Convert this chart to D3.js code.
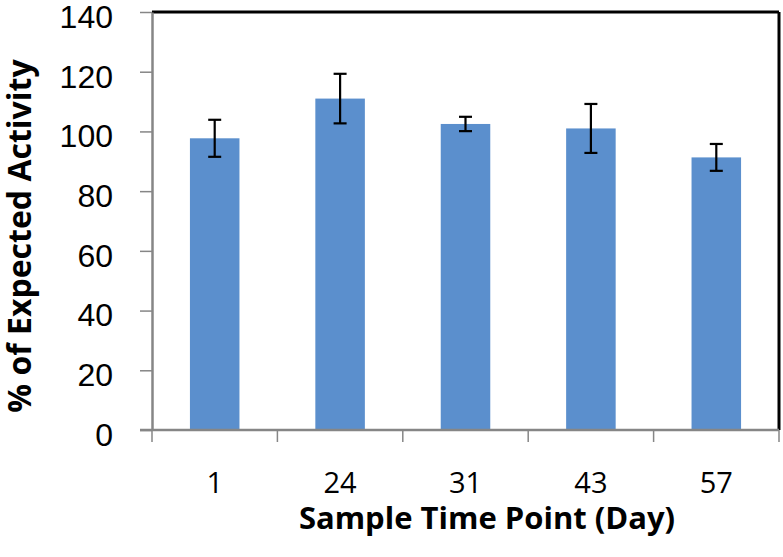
<!DOCTYPE html>
<html>
<head>
<meta charset="utf-8">
<script src="https://cdn.jsdelivr.net/npm/d3@7"></script>
<style>
	body { margin: 0; background: #fff; }
	svg { display: block; }
</style>
</head>
<body>
<div id="chart"></div>
<script>
// chart values
var days = ["1", "24", "31", "43", "57"];
var activity = [97.7, 111, 102.5, 101, 91.3];
var errors = [6.2, 8.3, 2.4, 8.2, 4.5];
var yTicks = [0, 20, 40, 60, 80, 100, 120, 140];

var width = 783, height = 557;
var margin = { top: 12, right: 4, bottom: 127, left: 152 };
var plotW = width - margin.left - margin.right;
var plotH = height - margin.top - margin.bottom;

var svg = d3.select("#chart").append("svg")
	.attr("width", width)
	.attr("height", height);

var g = svg.append("g")
	.attr("transform", "translate(" + margin.left + "," + margin.top + ")");

var x = d3.scaleBand()
	.domain(days)
	.range([0, plotW])
	.paddingInner(0.605)
	.paddingOuter(0.3025);

var y = d3.scaleLinear()
	.domain([0, 140])
	.range([plotH, 0]);

// top and right frame lines
g.append("line")
	.attr("x1", 0).attr("x2", plotW)
	.attr("y1", 0).attr("y2", 0)
	.attr("stroke", "#000").attr("stroke-width", 3);
g.append("line")
	.attr("x1", plotW).attr("x2", plotW)
	.attr("y1", 0).attr("y2", plotH)
	.attr("stroke", "#000").attr("stroke-width", 3);

// bars
g.selectAll(".bar")
	.data(days)
	.enter()
	.append("rect")
		.attr("class", "bar")
		.attr("x", d => x(d))
		.attr("width", x.bandwidth())
		.attr("y", (d, i) => y(activity[i]))
		.attr("height", (d, i) => plotH - y(activity[i]))
		.attr("fill", "#5b8fcd");

// error bars
var capW = 6.5;
var cx = d => x(d) + x.bandwidth() / 2;
var err = g.selectAll(".err")
	.data(days)
	.enter()
	.append("g")
		.attr("class", "err")
		.attr("stroke", "#000")
		.attr("stroke-width", 2.2);

err.append("line")
	.attr("x1", cx).attr("x2", cx)
	.attr("y1", (d, i) => y(activity[i] - errors[i]))
	.attr("y2", (d, i) => y(activity[i] + errors[i]));
err.append("line")
	.attr("x1", d => cx(d) - capW)
	.attr("x2", d => cx(d) + capW)
	.attr("y1", (d, i) => y(activity[i] + errors[i]))
	.attr("y2", (d, i) => y(activity[i] + errors[i]));
err.append("line")
	.attr("x1", d => cx(d) - capW)
	.attr("x2", d => cx(d) + capW)
	.attr("y1", (d, i) => y(activity[i] - errors[i]))
	.attr("y2", (d, i) => y(activity[i] - errors[i]));

// y axis
var yAxis = g.append("g")
	.call(d3.axisLeft(y).tickValues(yTicks).tickSize(12).tickSizeOuter(0).tickPadding(27));
yAxis.select(".domain").attr("stroke", "#868686").attr("stroke-width", 2.5);
yAxis.selectAll(".tick line").attr("stroke", "#868686").attr("stroke-width", 1.5);
yAxis.selectAll(".tick text")
	.attr("fill", "#000")
	.attr("dy", "0.48em")
	.style("font-family", "'Liberation Sans', Arial, sans-serif")
	.style("font-size", "32px");

// x axis: ticks sit on category boundaries
var xAxis = g.append("g")
	.attr("transform", "translate(0," + plotH + ")");
xAxis.append("line")
	.attr("x1", -12).attr("x2", plotW)
	.attr("stroke", "#868686").attr("stroke-width", 2.5);
var bounds = days.map(d => x(d) - x.step() * x.paddingInner() / 2).concat([plotW]);
xAxis.selectAll(".xtick")
	.data(bounds)
	.enter()
	.append("line")
		.attr("class", "xtick")
		.attr("x1", d => d).attr("x2", d => d)
		.attr("y1", 0).attr("y2", 12)
		.attr("stroke", "#868686").attr("stroke-width", 1.5);
xAxis.selectAll(".xlabel")
	.data(days)
	.enter()
	.append("text")
		.attr("class", "xlabel")
		.attr("x", cx)
		.attr("y", 63)
		.attr("text-anchor", "middle")
		.style("font-family", "'Open Sans', sans-serif")
		.style("font-size", "29px")
		.text(d => d);

// axis titles
svg.append("text")
	.attr("x", 487)
	.attr("y", 529)
	.attr("text-anchor", "middle")
	.style("font-family", "'Open Sans', sans-serif")
	.style("font-weight", "bold")
	.style("font-size", "31px")
	.text("Sample Time Point (Day)");

svg.append("text")
	.attr("transform", "translate(31,236) rotate(-90)")
	.attr("text-anchor", "middle")
	.style("font-family", "'Open Sans', sans-serif")
	.style("font-weight", "bold")
	.style("font-size", "32px")
	.text("% of Expected Activity");
</script>
</body>
</html>
